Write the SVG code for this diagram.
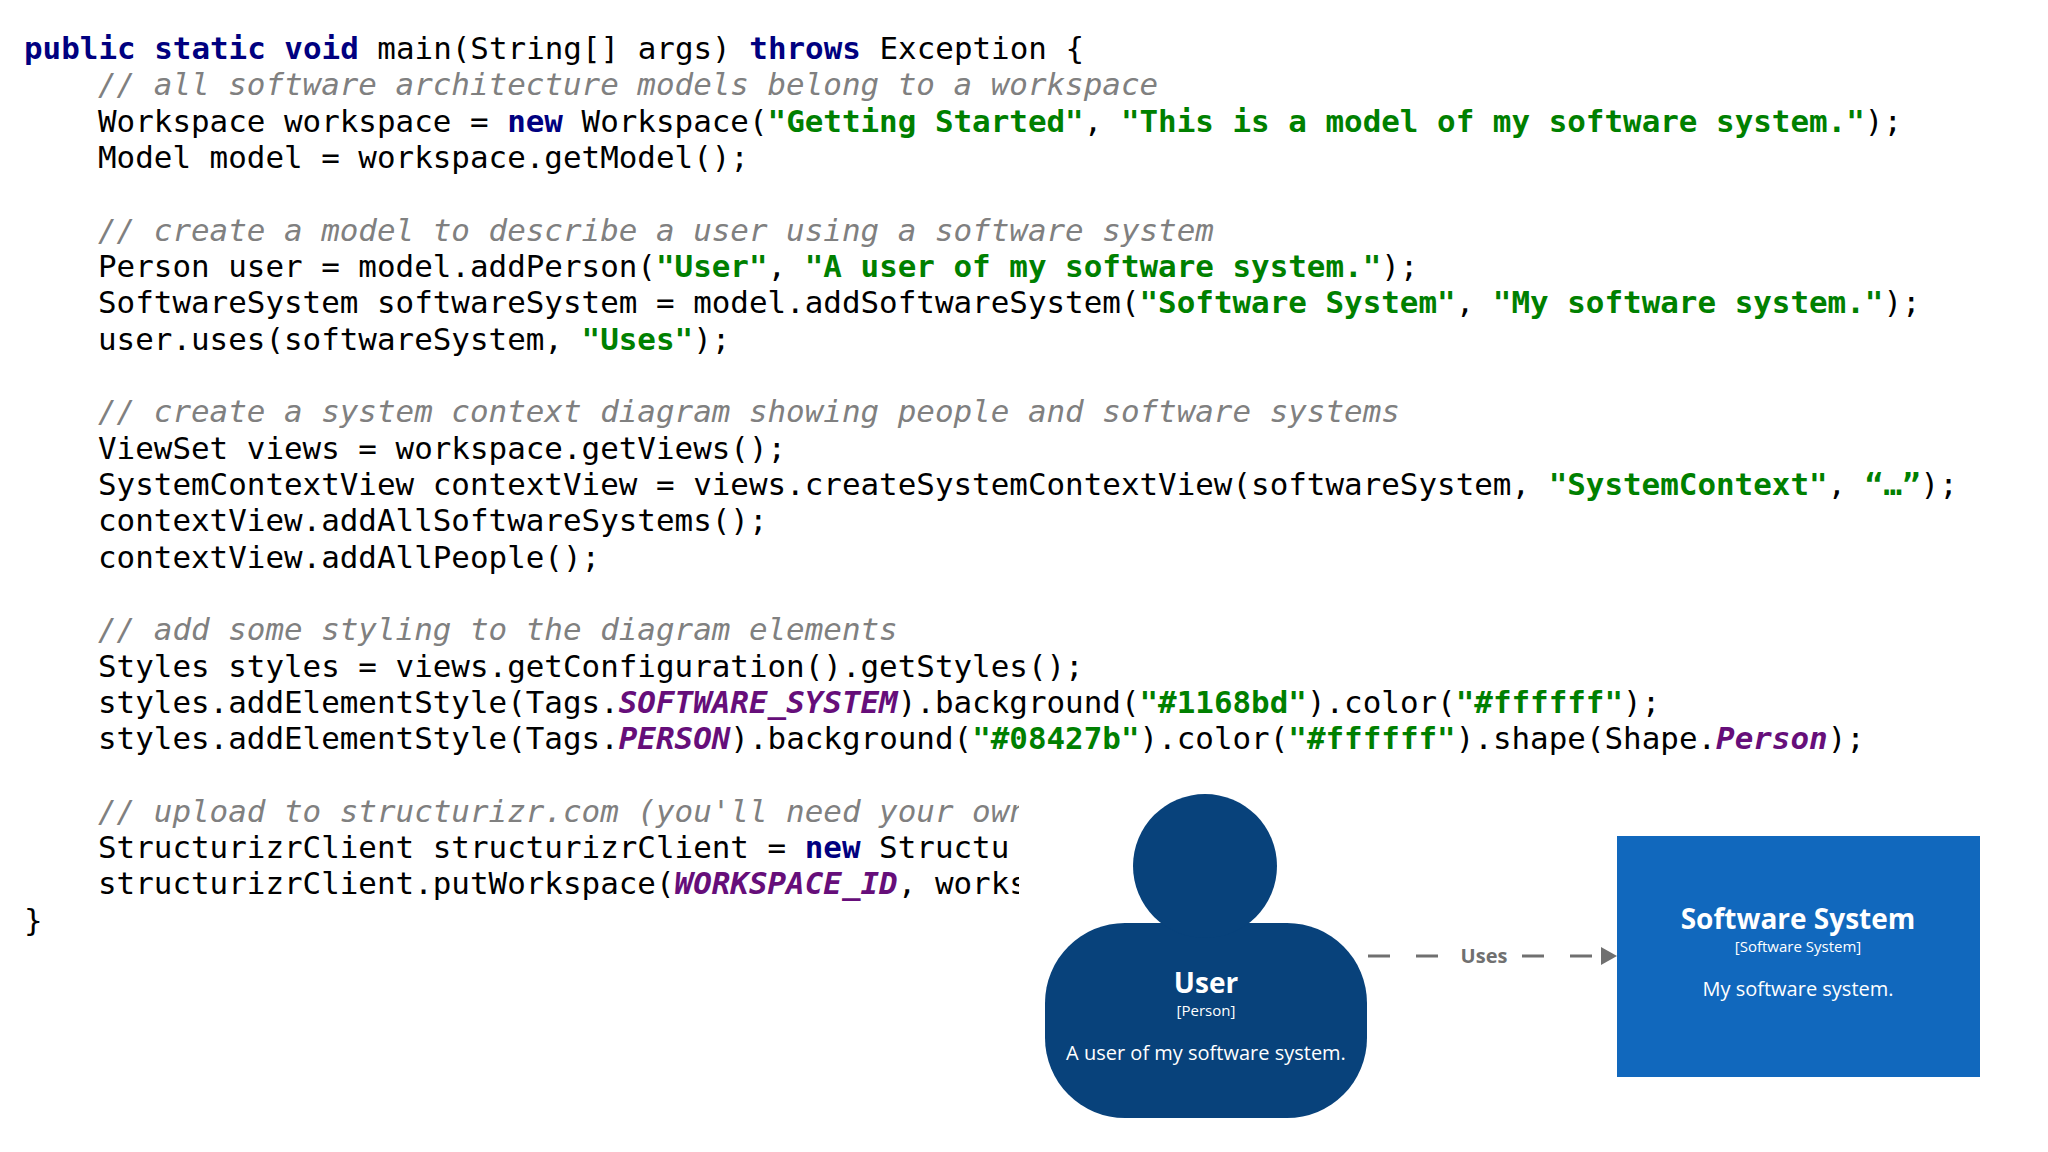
<svg xmlns="http://www.w3.org/2000/svg" width="2048" height="1152" viewBox="0 0 2048 1152">
<style>
.code{font-family:"DejaVu Sans Mono",monospace;font-size:30.9px;fill:#000}
.k{fill:#000080;font-weight:bold}
.s{fill:#008000;font-weight:bold}
.c{fill:#808080;font-style:italic}
.p{fill:#660e7a;font-weight:bold;font-style:italic}
.d{font-family:"Open Sans",sans-serif;fill:#fff;text-anchor:middle}
</style>
<defs>
<clipPath id="clip"><rect x="0" y="780" width="1019" height="140"/></clipPath>
<marker id="arr" markerWidth="16" markerHeight="18" refX="16" refY="9" orient="auto" markerUnits="userSpaceOnUse"><path d="M0,0 L16,9 L0,18 Z" fill="#707070"/></marker>
</defs>
<rect width="2048" height="1152" fill="#fff"/>
<g class="code" xml:space="preserve">
<text x="24" y="59"><tspan class="k">public static void</tspan> main(String[] args) <tspan class="k">throws</tspan> Exception {</text>
<text x="98" y="95" class="c">// all software architecture models belong to a workspace</text>
<text x="98" y="132">Workspace workspace = <tspan class="k">new</tspan> Workspace(<tspan class="s">"Getting Started"</tspan>, <tspan class="s">"This is a model of my software system."</tspan>);</text>
<text x="98" y="168">Model model = workspace.getModel();</text>
<text x="98" y="241" class="c">// create a model to describe a user using a software system</text>
<text x="98" y="277">Person user = model.addPerson(<tspan class="s">"User"</tspan>, <tspan class="s">"A user of my software system."</tspan>);</text>
<text x="98" y="313">SoftwareSystem softwareSystem = model.addSoftwareSystem(<tspan class="s">"Software System"</tspan>, <tspan class="s">"My software system."</tspan>);</text>
<text x="98" y="350">user.uses(softwareSystem, <tspan class="s">"Uses"</tspan>);</text>
<text x="98" y="422" class="c">// create a system context diagram showing people and software systems</text>
<text x="98" y="459">ViewSet views = workspace.getViews();</text>
<text x="98" y="495">SystemContextView contextView = views.createSystemContextView(softwareSystem, <tspan class="s">"SystemContext"</tspan>, <tspan class="s">“…”</tspan>);</text>
<text x="98" y="531">contextView.addAllSoftwareSystems();</text>
<text x="98" y="568">contextView.addAllPeople();</text>
<text x="98" y="640" class="c">// add some styling to the diagram elements</text>
<text x="98" y="677">Styles styles = views.getConfiguration().getStyles();</text>
<text x="98" y="713">styles.addElementStyle(Tags.<tspan class="p">SOFTWARE_SYSTEM</tspan>).background(<tspan class="s">"#1168bd"</tspan>).color(<tspan class="s">"#ffffff"</tspan>);</text>
<text x="98" y="749">styles.addElementStyle(Tags.<tspan class="p">PERSON</tspan>).background(<tspan class="s">"#08427b"</tspan>).color(<tspan class="s">"#ffffff"</tspan>).shape(Shape.<tspan class="p">Person</tspan>);</text>
<g clip-path="url(#clip)">
<text x="98" y="822" class="c">// upload to structurizr.com (you'll need your own</text>
<text x="98" y="858">StructurizrClient structurizrClient = <tspan class="k">new</tspan> Structu</text>
<text x="98" y="894">structurizrClient.putWorkspace(<tspan class="p">WORKSPACE_ID</tspan>, works</text>
</g>
<text x="24" y="931">}</text>
</g>
<g id="connectors">
<line x1="1368" y1="956" x2="1446" y2="956" stroke="#707070" stroke-width="3" stroke-dasharray="22,26"/>
<line x1="1522" y1="956" x2="1617" y2="956" stroke="#707070" stroke-width="3" stroke-dasharray="22,26" marker-end="url(#arr)"/>
<text x="1484" y="963" font-family="Open Sans, sans-serif" font-size="20" font-weight="bold" fill="#707070" text-anchor="middle">Uses</text>
</g>
<g id="user">
<rect x="1045" y="923" width="322" height="195" rx="80" ry="80" fill="#08427b"/>
<circle cx="1205" cy="866" r="72" fill="#08427b"/>
<text class="d" x="1206" y="993" font-size="28" font-weight="bold">User</text>
<text class="d" x="1206" y="1016" font-size="15">[Person]</text>
<text class="d" x="1206" y="1060" font-size="20">A user of my software system.</text>
</g>
<g id="software-system">
<rect x="1617" y="836" width="363" height="241" fill="#1168bd"/>
<text class="d" x="1798" y="929" font-size="28" font-weight="bold">Software System</text>
<text class="d" x="1798" y="952" font-size="15">[Software System]</text>
<text class="d" x="1798" y="996" font-size="20">My software system.</text>
</g>
</svg>
